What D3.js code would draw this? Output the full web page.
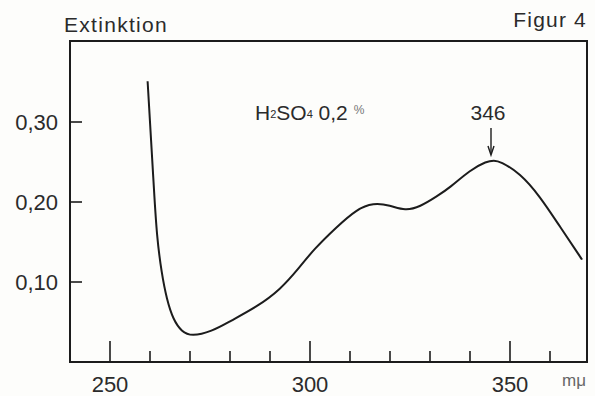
<!DOCTYPE html>
<html>
  <head>
    <meta http-equiv="Content-Type" content="text/html;charset=utf-8">
    <script src="https://d3js.org/d3.v7.min.js"></script>
    <style>
      body { margin: 0; background: #fdfdfb; }
      text { font-family: "Liberation Sans", Arial, sans-serif; fill: #2b2b2b; }
    </style>
  </head>
  <body>
    <svg id="chart" width="595" height="396"></svg>
    <script type="text/javascript">

// absorption curve (wavelength in m\u03bc, extinction)
var wavelength = [259.4, 259.8, 260.2, 261.0, 261.7, 262.9, 264.2, 265.8, 267.9, 270.4,
                  275.4, 280.0, 286.7, 292.5, 297.5, 300.8, 306.7, 311.7, 315.8, 320.0,
                  323.8, 327.5, 331.7, 335.0, 340.0, 344.2, 346.0, 347.5, 352.5, 357.5,
                  362.5, 367.9, 368.0];
var extinction = [0.351, 0.317, 0.283, 0.215, 0.157, 0.111, 0.078, 0.053, 0.038, 0.032,
                  0.038, 0.051, 0.069, 0.090, 0.119, 0.140, 0.169, 0.191, 0.199, 0.196,
                  0.189, 0.194, 0.207, 0.218, 0.240, 0.251, 0.252, 0.251, 0.236, 0.207,
                  0.169, 0.129, 0.128];

var xTicks = [250, 260, 270, 280, 290, 300, 310, 320, 330, 340, 350, 360];
var xMajor = [250, 300, 350];
var xLabels = ["250", "300", "350"];
var yTicks = [0.10, 0.20, 0.30];
var yLabels = ["0,10", "0,20", "0,30"];
var peak = 346;

var svg = d3.select("#chart");

var x = d3.scaleLinear().domain([240, 369.25]).range([70, 587]);
var y = d3.scaleLinear().domain([0, 0.40125]).range([362, 41]);

var ink = "#1c1c1c";

// frame
svg.append("rect")
    .attr("x", x(240)).attr("y", y(0.40125))
    .attr("width", x(369.25) - x(240))
    .attr("height", y(0) - y(0.40125))
    .style("fill", "none")
    .style("stroke", ink)
    .style("stroke-width", 2);

// x ticks (pointing inward)
svg.selectAll(".xt").data(xTicks).enter().append("line")
    .attr("x1", function(d) { return x(d); })
    .attr("x2", function(d) { return x(d); })
    .attr("y1", y(0))
    .attr("y2", function(d) { return y(0) - (xMajor.indexOf(d) >= 0 ? 21 : 11); })
    .style("stroke", ink)
    .style("stroke-width", 1.6);

svg.selectAll(".xl").data(xMajor).enter().append("text")
    .attr("x", function(d) { return x(d); })
    .attr("y", 392)
    .attr("text-anchor", "middle")
    .style("font-size", "22px")
    .text(function(d, i) { return xLabels[i]; });

// y ticks
svg.selectAll(".yt").data(yTicks).enter().append("line")
    .attr("x1", x(240))
    .attr("x2", x(240) + 12)
    .attr("y1", function(d) { return y(d); })
    .attr("y2", function(d) { return y(d); })
    .style("stroke", ink)
    .style("stroke-width", 1.6);

svg.selectAll(".yl").data(yTicks).enter().append("text")
    .attr("x", 58)
    .attr("y", function(d) { return y(d) + 8; })
    .attr("text-anchor", "end")
    .style("font-size", "22px")
    .text(function(d, i) { return yLabels[i]; });

// curve
var pts = wavelength.map(function(w, i) { return [w, extinction[i]]; });
var line = d3.line()
    .x(function(d) { return x(d[0]); })
    .y(function(d) { return y(d[1]); })
    .curve(d3.curveBasis);

svg.append("path")
    .attr("d", line(pts))
    .style("fill", "none")
    .style("stroke", ink)
    .style("stroke-width", 2);

// titles
svg.append("text")
    .attr("x", 64).attr("y", 32)
    .style("font-size", "21px")
    .style("letter-spacing", "1.3px")
    .text("Extinktion");

svg.append("text")
    .attr("x", 587).attr("y", 27)
    .attr("text-anchor", "end")
    .style("font-size", "21px")
    .style("letter-spacing", "1.2px")
    .text("Figur 4");

// solution label
var lab = svg.append("text")
    .attr("x", 255).attr("y", 120)
    .style("font-size", "21px");
lab.append("tspan").text("H");
lab.append("tspan").style("font-size", "11px").attr("dy", -2).text("2");
lab.append("tspan").attr("dy", 2).text("SO");
lab.append("tspan").style("font-size", "11px").attr("dy", -2).text("4");
lab.append("tspan").attr("dy", 2).text(" 0,2 ");
lab.append("tspan").style("font-size", "12px").style("fill", "#777").attr("dy", -6).text("%");

// peak annotation
svg.append("text")
    .attr("x", x(peak) - 6).attr("y", 120)
    .attr("text-anchor", "middle")
    .style("font-size", "21px")
    .text(String(peak));

var ax = x(peak) - 3;
svg.append("line")
    .attr("x1", ax).attr("x2", ax)
    .attr("y1", 128).attr("y2", 154)
    .style("stroke", ink).style("stroke-width", 1.4);
svg.append("path")
    .attr("d", d3.line()([[ax - 3, 146], [ax, 155], [ax + 3, 146]]))
    .style("fill", "none").style("stroke", ink).style("stroke-width", 1.4);

// unit
svg.append("text")
    .attr("x", 562).attr("y", 386)
    .style("font-size", "17px")
    .style("fill", "#666")
    .text("m\u03bc");

    </script>
  </body>
</html>
